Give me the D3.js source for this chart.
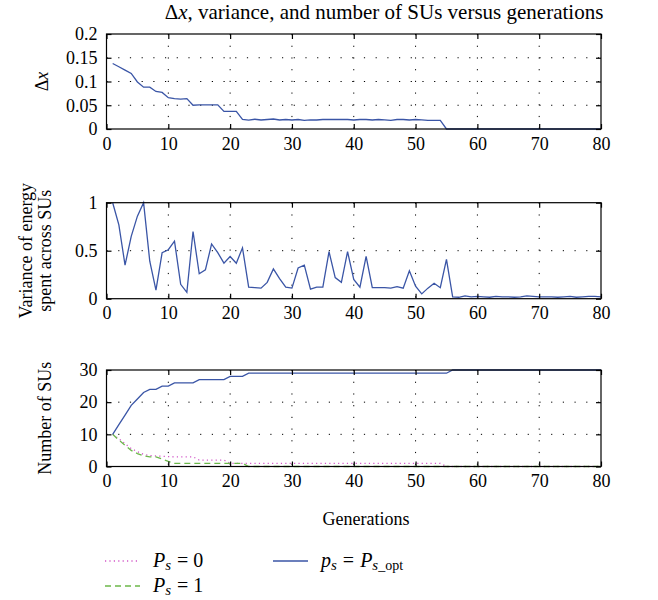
<!DOCTYPE html>
<html>
<head>
<meta charset="utf-8">
<script src="https://cdn.jsdelivr.net/npm/d3@7"></script>
<style>
  html, body { margin: 0; padding: 0; background: #fff; }
  svg text { font-family: "Liberation Serif", "DejaVu Serif", serif; fill: #000; }
</style>
</head>
<body>
<svg id="chart" width="658" height="600"></svg>
<script>
// ---------------- data ----------------
const generations = d3.range(1, 81);

const deltaX = [
  0.138, 0.131, 0.124, 0.117, 0.099, 0.088, 0.088, 0.079, 0.077, 0.066,
  0.064, 0.063, 0.064, 0.050, 0.051, 0.051, 0.051, 0.051, 0.037, 0.037,
  0.037, 0.020, 0.0185, 0.0205, 0.019, 0.020, 0.021, 0.019, 0.020, 0.019,
  0.020, 0.018, 0.019, 0.019, 0.020, 0.020, 0.020, 0.020, 0.020, 0.019,
  0.020, 0.020, 0.019, 0.020, 0.019, 0.018, 0.020, 0.020, 0.019, 0.020,
  0.019, 0.018, 0.018, 0.018, 0, 0, 0, 0, 0, 0,
  0, 0, 0, 0, 0, 0, 0, 0, 0, 0,
  0, 0, 0, 0, 0, 0, 0, 0, 0, 0
];

const varianceEnergy = [
  1.00, 0.77, 0.35, 0.65, 0.86, 1.00, 0.39, 0.09, 0.48, 0.51,
  0.60, 0.15, 0.066, 0.70, 0.26, 0.30, 0.57, 0.48, 0.37, 0.44,
  0.37, 0.53, 0.12, 0.115, 0.11, 0.17, 0.31, 0.21, 0.12, 0.11,
  0.32, 0.35, 0.10, 0.12, 0.12, 0.49, 0.22, 0.17, 0.49, 0.20,
  0.12, 0.44, 0.115, 0.115, 0.115, 0.11, 0.125, 0.11, 0.29, 0.13,
  0.05, 0.11, 0.16, 0.115, 0.41, 0.02, 0.015, 0.03, 0.02, 0.025,
  0.02, 0.015, 0.025, 0.02, 0.02, 0.015, 0.02, 0.03, 0.025, 0.02,
  0.02, 0.02, 0.015, 0.02, 0.025, 0.015, 0.02, 0.025, 0.025, 0.02
];

const suOpt = [
  10, 13, 16, 19, 21, 23, 24, 24, 25, 25,
  26, 26, 26, 26, 27, 27, 27, 27, 27, 28,
  28, 28, 29, 29, 29, 29, 29, 29, 29, 29,
  29, 29, 29, 29, 29, 29, 29, 29, 29, 29,
  29, 29, 29, 29, 29, 29, 29, 29, 29, 29,
  29, 29, 29, 29, 29, 30, 30, 30, 30, 30,
  30, 30, 30, 30, 30, 30, 30, 30, 30, 30,
  30, 30, 30, 30, 30, 30, 30, 30, 30, 30
];

const suP0 = [
  10, 8.6, 7.1, 5.6, 4.6, 3.8, 3.4, 3.3, 3.2, 3.1,
  3, 3, 3, 3, 2, 2, 2, 2, 2, 1,
  1, 1, 1, 1, 1, 1, 1, 1, 1, 1,
  1, 1, 1, 1, 1, 1, 1, 1, 1, 1,
  1, 1, 1, 1, 1, 1, 1, 1, 1, 1,
  1, 1, 1, 1, 0, 0, 0, 0, 0, 0,
  0, 0, 0, 0, 0, 0, 0, 0, 0, 0,
  0, 0, 0, 0, 0, 0, 0, 0, 0, 0
];

const suP1 = [
  10, 8.2, 6.6, 5, 4, 3.3, 3, 3, 2.3, 1.6,
  1, 1, 1, 1, 1, 1, 1, 1, 1, 1,
  1, 1, 0, 0, 0, 0, 0, 0, 0, 0,
  0, 0, 0, 0, 0, 0, 0, 0, 0, 0,
  0, 0, 0, 0, 0, 0, 0, 0, 0, 0,
  0, 0, 0, 0, 0, 0, 0, 0, 0, 0,
  0, 0, 0, 0, 0, 0, 0, 0, 0, 0,
  0, 0, 0, 0, 0, 0, 0, 0, 0, 0
];

const xTicks = [0, 10, 20, 30, 40, 50, 60, 70, 80];
const dxTicks = [0, 0.05, 0.1, 0.15, 0.2];
const varTicks = [0, 0.5, 1];
const suTicks = [0, 10, 20, 30];

const titleText = "Δx, variance, and number of SUs versus generations";
const xLabelText = "Generations";

// ---------------- layout ----------------
const svg = d3.select("#chart");
const X0 = 106.5, X1 = 601;
const FS = 18;
const SERIF = '"Liberation Serif", "DejaVu Serif", serif';
const colBlue = "#3a55a6", colGreen = "#6cb84a", colPink = "#d257c8";

const x = d3.scaleLinear().domain([0, 80]).range([X0, X1]);

function panel(top, bottom, domain, ticks, tickFmt, series, ylabelLines, ylabelX) {
  const y = d3.scaleLinear().domain(domain).range([bottom, top]);
  const g = svg.append("g");

  // grid
  const grid = g.append("g").attr("stroke", "#000").attr("stroke-width", 1)
    .attr("stroke-dasharray", "1.2,10.5");
  xTicks.filter(t => t > 0 && t < 80).forEach(t => {
    grid.append("line").attr("x1", x(t)).attr("x2", x(t)).attr("y1", top).attr("y2", bottom);
  });
  ticks.filter(t => t > domain[0] && t < domain[1]).forEach(t => {
    grid.append("line").attr("x1", X0).attr("x2", X1).attr("y1", y(t)).attr("y2", y(t));
  });

  // series
  series.forEach(s => {
    const line = d3.line().x((d, i) => x(generations[i])).y(d => y(d));
    g.append("path").datum(s.values).attr("d", line)
      .attr("fill", "none").attr("stroke", s.color).attr("stroke-width", 1.3)
      .attr("stroke-dasharray", s.dash || null);
  });

  // axes
  const ax = d3.axisBottom(x).tickValues(xTicks).tickSizeInner(-5).tickSizeOuter(0).tickPadding(8);
  g.append("g").attr("transform", `translate(0,${bottom})`).call(ax);
  const axT = d3.axisTop(x).tickValues(xTicks).tickSizeInner(-5).tickSizeOuter(0).tickFormat("");
  g.append("g").attr("transform", `translate(0,${top})`).call(axT);
  const ay = d3.axisLeft(y).tickValues(ticks).tickFormat(tickFmt).tickSizeInner(-5).tickSizeOuter(0).tickPadding(9);
  g.append("g").attr("transform", `translate(${X0},0)`).call(ay);
  const ayR = d3.axisRight(y).tickValues(ticks).tickSizeInner(-5).tickSizeOuter(0).tickFormat("");
  g.append("g").attr("transform", `translate(${X1},0)`).call(ayR);

  g.selectAll(".domain").remove();
  g.selectAll("g").attr("font-family", SERIF).attr("font-size", FS);
  g.selectAll(".tick line").attr("stroke", "#000").attr("stroke-width", 1.2);
  g.selectAll(".tick text").attr("font-family", SERIF).style("font-family", SERIF)
    .style("font-size", FS + "px").attr("fill", "#000");

  // box
  g.append("rect").attr("x", X0).attr("y", top).attr("width", X1 - X0).attr("height", bottom - top)
    .attr("fill", "none").attr("stroke", "#000").attr("stroke-width", 1.2);

  // y label
  const cy = (top + bottom) / 2;
  ylabelLines.forEach((ln, i) => {
    const t = svg.append("text")
      .attr("transform", `translate(${ylabelX[i]},${cy}) rotate(-90)`)
      .attr("text-anchor", "middle").style("font-size", FS + "px");
    ln(t);
  });
  return y;
}

const fmtDx = d => d === 0 ? "0" : String(d);

panel(34, 129, [0, 0.2], dxTicks, fmtDx,
  [{ values: deltaX, color: colBlue }],
  [t => { t.append("tspan").text("Δ"); t.append("tspan").style("font-style", "italic").text("x"); }],
  [48]);

panel(202.7, 298.7, [0, 1], varTicks, d => String(d),
  [{ values: varianceEnergy, color: colBlue }],
  [t => t.text("Variance of energy"), t => t.text("spent across SUs")],
  [32, 51]);

panel(370, 466.5, [0, 30], suTicks, d => String(d),
  [{ values: suP0, color: colPink, dash: "1.2,3.2" },
   { values: suP1, color: colGreen, dash: "6,4" },
   { values: suOpt, color: colBlue }],
  [t => t.text("Number of SUs")],
  [51]);

// title
svg.append("text").attr("x", 384).attr("y", 19).attr("text-anchor", "middle")
  .style("font-size", "21px")
  .call(t => {
    t.append("tspan").text("Δ");
    t.append("tspan").style("font-style", "italic").text("x");
    t.append("tspan").text(titleText.slice(2));
  });

// x label
svg.append("text").attr("x", 366).attr("y", 525).attr("text-anchor", "middle")
  .style("font-size", FS + "px").text(xLabelText);

// legend
const legend = [
  { x: 105, y: 561, color: colPink, dash: "1.2,3.2", sym: "P", rest: "0" },
  { x: 105, y: 586, color: colGreen, dash: "6,4", sym: "P", rest: "1" },
  { x: 273, y: 561, color: colBlue, dash: null, sym: "p", rest: null }
];
legend.forEach(l => {
  svg.append("line").attr("x1", l.x).attr("x2", l.x + 35).attr("y1", l.y).attr("y2", l.y)
    .attr("stroke", l.color).attr("stroke-width", 1.3).attr("stroke-dasharray", l.dash);
  const t = svg.append("text").attr("x", l.x + 48).attr("y", l.y + 6).style("font-size", "20px");
  t.append("tspan").style("font-style", "italic").text(l.sym);
  t.append("tspan").style("font-style", "italic").style("font-size", "15px").attr("dy", 3).text("s");
  t.append("tspan").attr("dy", -3).attr("dx", 6).text("=");
  if (l.rest !== null) {
    t.append("tspan").attr("dx", 5).text(l.rest);
  } else {
    t.append("tspan").attr("dx", 6).style("font-style", "italic").text("P");
    t.append("tspan").style("font-style", "italic").style("font-size", "15px").attr("dy", 3).text("s");
    t.append("tspan").style("font-size", "14px").text("_opt");
  }
});
</script>
</body>
</html>
